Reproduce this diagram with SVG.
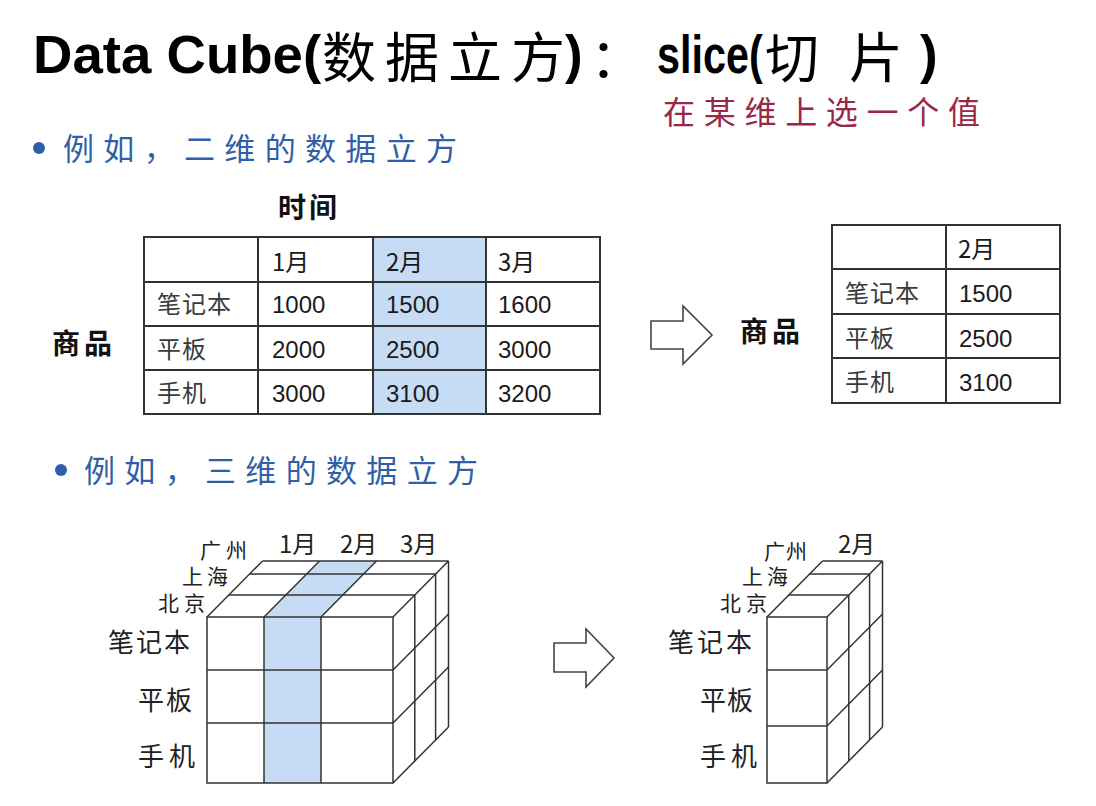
<svg xmlns="http://www.w3.org/2000/svg" width="1096" height="806" viewBox="0 0 1096 806">
<style>
.lat{font-family:"Liberation Sans",Arial,sans-serif;}
.cjk{font-family:"Noto Sans CJK SC","Noto Sans CJK JP",sans-serif;}
.ttl{font-weight:bold;font-size:53px;fill:#000;}
.tcjk{font-size:54px;fill:#000;}
.bul{font-size:31px;fill:#2f5fa8;}
.red{font-size:32px;fill:#9b2747;}
.hdr{font-size:28px;font-weight:bold;fill:#111;}
.num{font-size:24px;fill:#1a1a1a;}
.tzh{font-size:24px;fill:#3a3a3a;letter-spacing:1px;}
.tbl{fill:none;stroke:#333;stroke-width:2;}
.cube{fill:none;stroke:#333;stroke-width:1.5;}
.blue{fill:#c6dcf4;stroke:none;}
.arrow{fill:#fff;stroke:#444;stroke-width:1.6;stroke-linejoin:miter;}
.cl{font-size:24px;fill:#222;}
.cs{font-size:21px;fill:#222;}
.cr{font-size:26px;fill:#222;}
</style>
<rect width="1096" height="806" fill="#fff"/>

<g id="title">
<text class="lat ttl" transform="translate(33,73) scale(1.03,1)" x="0" y="0">Data Cube(</text>
<text class="cjk tcjk" x="322" y="78" textLength="243" lengthAdjust="spacing">数据立方</text>
<text class="lat ttl" x="565" y="73">)</text>
<text class="cjk tcjk" x="590" y="78">：</text>
<text class="lat ttl" transform="translate(657,73) scale(0.78,1)" x="0" y="0">slice(</text>
<text class="cjk tcjk" x="765" y="78" textLength="138" lengthAdjust="spacing">切片</text>
<text class="lat ttl" x="920" y="73">)</text>
</g>

<g id="subtitle">
<text class="cjk red" x="663" y="124" textLength="317" lengthAdjust="spacing">在某维上选一个值</text>
</g>

<g id="bullet1">
<circle cx="39" cy="148" r="6" fill="#2f5fa8"/>
<text class="cjk bul" x="63" y="160" textLength="394" lengthAdjust="spacing">例如，二维的数据立方</text>
</g>

<g id="table1">
<text class="cjk hdr" x="278" y="218" textLength="59" lengthAdjust="spacing">时间</text>
<text class="cjk hdr" x="52" y="354" textLength="60" lengthAdjust="spacing">商品</text>
<rect class="blue" x="373" y="237" width="113" height="177"/>
<rect class="tbl" x="144" y="237" width="456" height="177"/>
<line class="tbl" x1="258" y1="237" x2="258" y2="414"/>
<line class="tbl" x1="373" y1="237" x2="373" y2="414"/>
<line class="tbl" x1="486" y1="237" x2="486" y2="414"/>
<line class="tbl" x1="144" y1="282" x2="600" y2="282"/>
<line class="tbl" x1="144" y1="326" x2="600" y2="326"/>
<line class="tbl" x1="144" y1="370" x2="600" y2="370"/>
<text class="cjk num" x="272" y="271">1月</text>
<text class="cjk num" x="386" y="271">2月</text>
<text class="cjk num" x="498" y="271">3月</text>
<text class="cjk tzh" x="157" y="313">笔记本</text>
<text class="cjk tzh" x="157" y="358">平板</text>
<text class="cjk tzh" x="157" y="402">手机</text>
<text class="lat num" x="272" y="313">1000</text>
<text class="lat num" x="386" y="313">1500</text>
<text class="lat num" x="498" y="313">1600</text>
<text class="lat num" x="272" y="358">2000</text>
<text class="lat num" x="386" y="358">2500</text>
<text class="lat num" x="498" y="358">3000</text>
<text class="lat num" x="272" y="402">3000</text>
<text class="lat num" x="386" y="402">3100</text>
<text class="lat num" x="498" y="402">3200</text>
</g>

<g id="table2">
<text class="cjk hdr" x="740" y="342" textLength="60" lengthAdjust="spacing">商品</text>
<rect class="tbl" x="832" y="225" width="228" height="178"/>
<line class="tbl" x1="946" y1="225" x2="946" y2="403"/>
<line class="tbl" x1="832" y1="269" x2="1060" y2="269"/>
<line class="tbl" x1="832" y1="314" x2="1060" y2="314"/>
<line class="tbl" x1="832" y1="358" x2="1060" y2="358"/>
<text class="cjk num" x="958" y="258">2月</text>
<text class="cjk tzh" x="845" y="302">笔记本</text>
<text class="cjk tzh" x="845" y="347">平板</text>
<text class="cjk tzh" x="845" y="391">手机</text>
<text class="lat num" x="959" y="302">1500</text>
<text class="lat num" x="959" y="347">2500</text>
<text class="lat num" x="959" y="391">3100</text>
</g>

<g id="connectors">
<polygon id="arrow1" class="arrow" points="651,321 683,321 683,306 712,335 683,364 683,349 651,349"/>
<polygon id="arrow2" class="arrow" points="554,643 586,643 586,629 614,658 586,687 586,672 554,672"/>
</g>

<g id="bullet2">
<circle cx="61" cy="470" r="6" fill="#2f5fa8"/>
<text class="cjk bul" x="84" y="482" textLength="394" lengthAdjust="spacing">例如，三维的数据立方</text>
</g>

<g id="cube1">
<rect class="blue" x="264" y="617" width="57" height="166"/>
<polygon class="blue" points="264,617 321,617 376.5,561 319.5,561"/>
<rect class="cube" x="207" y="617" width="186" height="166"/>
<line class="cube" x1="264" y1="617" x2="264" y2="783"/>
<line class="cube" x1="321" y1="617" x2="321" y2="783"/>
<line class="cube" x1="207" y1="670" x2="393" y2="670"/>
<line class="cube" x1="207" y1="723" x2="393" y2="723"/>
<line class="cube" x1="228.8" y1="595" x2="414.8" y2="595"/>
<line class="cube" x1="249.6" y1="574" x2="435.6" y2="574"/>
<line class="cube" x1="262.5" y1="561" x2="448.5" y2="561"/>
<line class="cube" x1="207" y1="617" x2="262.5" y2="561"/>
<line class="cube" x1="264" y1="617" x2="319.5" y2="561"/>
<line class="cube" x1="321" y1="617" x2="376.5" y2="561"/>
<line class="cube" x1="393" y1="617" x2="448.5" y2="561"/>
<line class="cube" x1="414.8" y1="595" x2="414.8" y2="761"/>
<line class="cube" x1="435.6" y1="574" x2="435.6" y2="740"/>
<line class="cube" x1="448.5" y1="561" x2="448.5" y2="727"/>
<line class="cube" x1="393" y1="670" x2="448.5" y2="614"/>
<line class="cube" x1="393" y1="723" x2="448.5" y2="667"/>
<line class="cube" x1="393" y1="783" x2="448.5" y2="727"/>
<text class="cjk cl" x="279" y="553">1月</text>
<text class="cjk cl" x="340" y="553">2月</text>
<text class="cjk cl" x="400" y="553">3月</text>
<text class="cjk cs" x="200" y="558" textLength="47" lengthAdjust="spacing">广州</text>
<text class="cjk cs" x="182" y="584" textLength="46" lengthAdjust="spacing">上海</text>
<text class="cjk cs" x="158" y="611" textLength="47" lengthAdjust="spacing">北京</text>
<text class="cjk cr" x="108" y="652" textLength="82" lengthAdjust="spacing">笔记本</text>
<text class="cjk cr" x="138" y="710" textLength="54" lengthAdjust="spacing">平板</text>
<text class="cjk cr" x="138" y="766" textLength="57" lengthAdjust="spacing">手机</text>
</g>

<g id="cube2">
<rect class="cube" x="767" y="617" width="60" height="166"/>
<line class="cube" x1="767" y1="670" x2="827" y2="670"/>
<line class="cube" x1="767" y1="726" x2="827" y2="726"/>
<line class="cube" x1="788.8" y1="595" x2="848.8" y2="595"/>
<line class="cube" x1="809.6" y1="574" x2="869.6" y2="574"/>
<line class="cube" x1="822.5" y1="561" x2="882.5" y2="561"/>
<line class="cube" x1="767" y1="617" x2="822.5" y2="561"/>
<line class="cube" x1="827" y1="617" x2="882.5" y2="561"/>
<line class="cube" x1="848.8" y1="595" x2="848.8" y2="761"/>
<line class="cube" x1="869.6" y1="574" x2="869.6" y2="740"/>
<line class="cube" x1="882.5" y1="561" x2="882.5" y2="727"/>
<line class="cube" x1="827" y1="670" x2="882.5" y2="614"/>
<line class="cube" x1="827" y1="726" x2="882.5" y2="670"/>
<line class="cube" x1="827" y1="783" x2="882.5" y2="727"/>
<text class="cjk cl" x="838" y="553">2月</text>
<text class="cjk cs" x="764" y="559" textLength="43" lengthAdjust="spacing">广州</text>
<text class="cjk cs" x="742" y="584" textLength="46" lengthAdjust="spacing">上海</text>
<text class="cjk cs" x="720" y="611" textLength="47" lengthAdjust="spacing">北京</text>
<text class="cjk cr" x="668" y="652" textLength="84" lengthAdjust="spacing">笔记本</text>
<text class="cjk cr" x="700" y="710" textLength="53" lengthAdjust="spacing">平板</text>
<text class="cjk cr" x="700" y="766" textLength="57" lengthAdjust="spacing">手机</text>
</g>
</svg>
